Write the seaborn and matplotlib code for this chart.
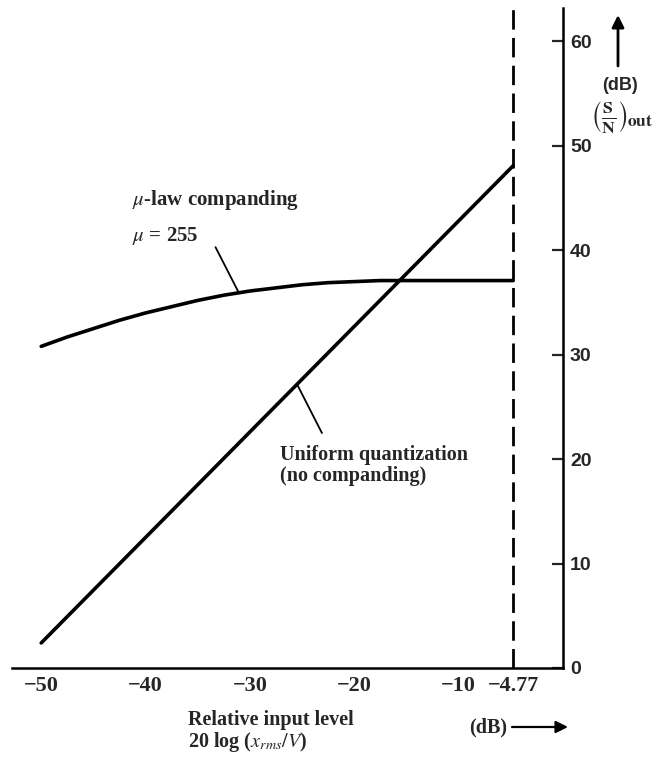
import matplotlib
matplotlib.use("Agg")
import matplotlib.pyplot as plt
import seaborn as sns
import pandas as pd

# values
uniform_input = [-50, -4.77]
uniform_snr = [2.4, 48.1]

mu_input = [-50, -47.5, -45, -42.5, -40, -37.5, -35, -32.5, -30, -27.5,
            -25, -22.5, -20, -17.5, -15, -10, -4.77]
mu_snr = [30.8, 31.7, 32.5, 33.3, 34.0, 34.6, 35.2, 35.7, 36.1, 36.4,
          36.7, 36.9, 37.0, 37.1, 37.1, 37.1, 37.1]

x_ticks = [-50, -40, -30, -20, -10, -4.77]
x_tick_labels = ['\u221250', '\u221240', '\u221230', '\u221220', '\u221210', '\u22124.77']
y_ticks = [0, 10, 20, 30, 40, 50, 60]
peak_level = -4.77

sns.set_style("white")
plt.rcParams['font.family'] = ['Liberation Serif', 'DejaVu Serif']
plt.rcParams['mathtext.fontset'] = 'stix'

fig = plt.figure(figsize=(6.59, 7.61), dpi=100)
W, H = 659, 761
ax = fig.add_axes([12 / W, 93 / H, 551 / W, 660 / H])

uni = pd.DataFrame({'level': uniform_input, 'snr': uniform_snr})
mu = pd.DataFrame({'level': mu_input, 'snr': mu_snr})
sns.lineplot(data=uni, x='level', y='snr', color='black', lw=2.6, ax=ax)
sns.lineplot(data=mu, x='level', y='snr', color='black', lw=2.6, ax=ax)

ax.axvline(peak_level, color='black', lw=2.0, ls=(0, (7, 3)))

ax.set_xlim(-52.8, 0)
ax.set_ylim(0, 63.2)

# axes: only bottom and right
ax.spines['left'].set_visible(False)
ax.spines['top'].set_visible(False)
for s in ['right', 'bottom']:
    ax.spines[s].set_linewidth(1.8)
    ax.spines[s].set_color('black')
ax.yaxis.tick_right()
ax.set_xticks(x_ticks)
ax.set_xticklabels(x_tick_labels, fontsize=16, fontweight='bold')
ax.set_yticks(y_ticks)
ax.set_yticklabels([str(v) for v in y_ticks], fontsize=14, fontweight='bold',
                   family='Liberation Sans')
ax.tick_params(axis='x', direction='in', length=7, width=1.6, pad=6)
ax.tick_params(axis='y', direction='in', length=8, width=1.6, pad=5)
ax.set_xlabel('')
ax.set_ylabel('')

# curve labels
ax.text(-41.3, 44.8, r'$\mu$-law companding', fontsize=15, fontweight='bold',
        va='center', ha='left')
ax.text(-41.3, 41.4, r'$\mu$ = 255', fontsize=15, fontweight='bold',
        va='center', ha='left')
ax.annotate('', xy=(-31.1, 36.0), xytext=(-33.3, 40.3),
            arrowprops=dict(arrowstyle='-', lw=1.3, color='black',
                            shrinkA=0, shrinkB=0))
ax.text(-27.1, 19.4, 'Uniform quantization\n(no companding)', fontsize=14.5,
        fontweight='bold', va='center', ha='left', linespacing=1.05)
ax.annotate('', xy=(-25.5, 27.2), xytext=(-23.1, 22.5),
            arrowprops=dict(arrowstyle='-', lw=1.3, color='black',
                            shrinkA=0, shrinkB=0))

# axis captions
fig.text(188 / W, 1 - 732 / H, 'Relative input level\n20 log ($x_{rms}$/$V$)',
         fontsize=14.5, fontweight='bold', ha='left', va='center',
         linespacing=1.0)
fig.text(488 / W, 1 - 727 / H, '(dB)', fontsize=14.5, fontweight='bold',
         ha='center', va='center')
ax.annotate('', xy=(568 / W, 1 - 727 / H), xytext=(512 / W, 1 - 727 / H),
            xycoords='figure fraction', textcoords='figure fraction',
            arrowprops=dict(arrowstyle='-|>', lw=1.6, color='black',
                            mutation_scale=18, shrinkA=0, shrinkB=0))

ax.annotate('', xy=(618 / W, 1 - 15 / H), xytext=(618 / W, 1 - 66 / H),
            xycoords='figure fraction', textcoords='figure fraction',
            arrowprops=dict(arrowstyle='-|>', lw=2.0, color='black',
                            mutation_scale=18, shrinkA=0, shrinkB=0))
fig.text(620 / W, 1 - 85 / H, '(dB)', fontsize=13, fontweight='bold',
         ha='center', va='center', family='Liberation Sans')
fig.text(622 / W, 1 - 117 / H,
         r'$\left(\frac{\mathbf{S}}{\mathbf{N}}\right)_{\!\mathbf{out}}$',
         fontsize=18, ha='center', va='center')

fig.savefig('out.png', dpi=100)
